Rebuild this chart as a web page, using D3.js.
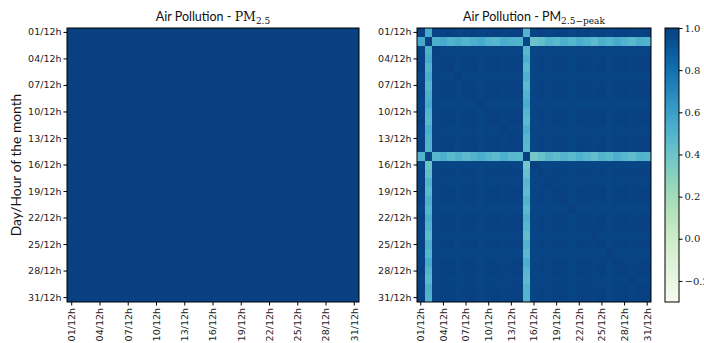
<!DOCTYPE html>
<html>
<head>
<meta charset="utf-8">
<script src="https://cdn.jsdelivr.net/npm/d3@7"></script>
<style>
  html, body { margin: 0; padding: 0; background: #fff; }
  svg { display: block; }
</style>
</head>
<body>
<svg id="chart" width="704" height="343"></svg>
<script>
// ---------------- data ----------------
const days = d3.range(1, 32).map(d => String(d).padStart(2, "0"));
const tickLabels = ["01/12h","04/12h","07/12h","10/12h","13/12h","16/12h","19/12h","22/12h","25/12h","28/12h","31/12h"];
const tickDays = ["01","04","07","10","13","16","19","22","25","28","31"];

// PM2.5: every day correlates ~perfectly with every other day
const pm25Coherence = [1.0,0.998,1.0,0.998,1.0,1.0,0.998,1.0,1.0,0.998,1.0,1.0,0.998,1.0,1.0,1.0,0.998,1.0,1.0,0.998,1.0,1.0,1.0,0.998,1.0,1.0,0.998,1.0,1.0,0.998,1.0];

// PM2.5-peak: two outlier days (02 and 15)
const peakOutliers = ["02", "15"];
// correlation of the day-02 profile with each day
const peakRow02 = [0.55,1.0,0.52,0.55,0.50,0.53,0.49,0.52,0.55,0.50,0.48,0.53,0.51,0.50,0.98,0.40,0.44,0.50,0.47,0.52,0.49,0.53,0.50,0.46,0.52,0.49,0.54,0.50,0.47,0.52,0.50];
// correlation of the day-15 profile with each day
const peakRow15 = [0.50,0.98,0.48,0.52,0.47,0.51,0.46,0.50,0.53,0.49,0.46,0.52,0.48,0.47,1.0,0.38,0.42,0.48,0.45,0.50,0.47,0.51,0.48,0.44,0.50,0.47,0.52,0.48,0.45,0.50,0.49];
// coherence of the remaining days among themselves
const peakCoherence = [0.995,1.0,0.985,0.99,0.995,0.98,0.99,0.995,0.98,0.99,0.995,0.985,0.99,0.995,1.0,0.98,0.99,0.985,0.995,0.99,0.98,0.995,0.99,0.985,0.995,0.98,0.99,0.995,0.985,0.99,0.995];

const colorTicks = [-0.2, 0.0, 0.2, 0.4, 0.6, 0.8, 1.0];
const colorDomain = [-0.3, 1.0];

// ---------------- build matrices ----------------
function pm25Cell(i, j) {
  return i === j ? 1 : Math.min(pm25Coherence[i], pm25Coherence[j]);
}
function peakCell(i, j) {
  const a = days[i], b = days[j];
  if (i === j) return 1;
  if (a === peakOutliers[0]) return peakRow02[j];
  if (b === peakOutliers[0]) return peakRow02[i];
  if (a === peakOutliers[1]) return peakRow15[j];
  if (b === peakOutliers[1]) return peakRow15[i];
  return Math.min(peakCoherence[i], peakCoherence[j]);
}
function cells(fn) {
  const out = [];
  days.forEach((r, i) => days.forEach((c, j) => out.push({ r, c, v: fn(i, j) })));
  return out;
}

// ---------------- drawing ----------------
const svg = d3.select("#chart");
const color = d3.scaleSequential(d3.interpolateGnBu).domain(colorDomain);
const sansTick = "'DejaVu Sans', sans-serif";

function panel(x0, x1, y0, y1, data, sub, showYLabel) {
  const g = svg.append("g");
  const x = d3.scaleBand().domain(days).range([x0, x1]).padding(0);
  const y = d3.scaleBand().domain(days).range([y0, y1]).padding(0);

  g.append("g").attr("shape-rendering", "crispEdges")
    .selectAll("rect").data(data).join("rect")
    .attr("x", d => x(d.c))
    .attr("y", d => y(d.r))
    .attr("width", d => Math.min(x.bandwidth() + 0.6, x1 - x(d.c)))
    .attr("height", d => Math.min(y.bandwidth() + 0.6, y1 - y(d.r)))
    .attr("fill", d => color(d.v));

  g.append("rect")
    .attr("x", x0).attr("y", y0).attr("width", x1 - x0).attr("height", y1 - y0)
    .attr("fill", "none").attr("stroke", "#000").attr("stroke-width", 1);

  const fmt = d => tickLabels[tickDays.indexOf(d)];
  const yAxis = d3.axisLeft(y).tickValues(tickDays).tickFormat(fmt).tickSize(3.5).tickPadding(2);
  const ya = g.append("g").attr("transform", `translate(${x0},0)`).call(yAxis);
  ya.select(".domain").remove();
  ya.selectAll("text").style("font-family", sansTick).style("font-size", "9.5px").attr("fill", "#222");

  const xAxis = d3.axisBottom(x).tickValues(tickDays).tickFormat(fmt).tickSize(3.5).tickPadding(2);
  const xa = g.append("g").attr("transform", `translate(0,${y1})`).call(xAxis);
  xa.select(".domain").remove();
  xa.selectAll("text")
    .style("font-family", sansTick).style("font-size", "9.5px").attr("fill", "#222")
    .attr("transform", "rotate(-90)")
    .attr("text-anchor", "end")
    .attr("x", -6).attr("y", 0).attr("dy", "0.35em");

  const t = g.append("text")
    .attr("x", (x0 + x1) / 2).attr("y", y0 - 7)
    .attr("text-anchor", "middle")
    .style("font-family", "Lato, 'Liberation Sans', sans-serif")
    .style("font-size", "12.5px").attr("fill", "#111");
  t.append("tspan").text("Air Pollution - ");
  t.append("tspan").style("font-family", sub.pmSerif ? "'DejaVu Serif', serif" : "Lato, sans-serif").text("PM");
  t.append("tspan").style("font-family", "'DejaVu Serif', serif").style("font-size", "9px")
    .attr("dy", 3).text(sub.text);

  if (showYLabel) {
    g.append("text")
      .attr("transform", `translate(21,${(y0 + y1) / 2}) rotate(-90)`)
      .attr("text-anchor", "middle")
      .style("font-family", "Lato, 'Liberation Sans', sans-serif")
      .style("font-size", "13.8px").attr("fill", "#111")
      .text("Day/Hour of the month");
  }
}

panel(67, 359, 28, 302, cells(pm25Cell), { text: "2.5", pmSerif: true }, true);
panel(417, 651, 28, 302, cells(peakCell), { text: "2.5\u2212peak", pmSerif: false }, false);

// ---------------- colorbar ----------------
const cbX = 665, cbW = 14, cbY0 = 28, cbY1 = 302;
const cy = d3.scaleLinear().domain(colorDomain).range([cbY1, cbY0]);
const defs = svg.append("defs");
const grad = defs.append("linearGradient").attr("id", "cbgrad")
  .attr("x1", 0).attr("y1", 1).attr("x2", 0).attr("y2", 0);
d3.range(0, 1.0001, 0.05).forEach(t => {
  grad.append("stop").attr("offset", t).attr("stop-color", d3.interpolateGnBu(t));
});
svg.append("rect").attr("x", cbX).attr("y", cbY0).attr("width", cbW).attr("height", cbY1 - cbY0)
  .attr("fill", "url(#cbgrad)").attr("stroke", "#000").attr("stroke-width", 1);
const cAxis = d3.axisRight(cy).tickValues(colorTicks)
  .tickFormat(d => (d < 0 ? "\u2212" : "") + Math.abs(d).toFixed(1)).tickSize(3.5).tickPadding(2);
const ca = svg.append("g").attr("transform", `translate(${cbX + cbW},0)`).call(cAxis);
ca.select(".domain").remove();
ca.selectAll("text").style("font-family", "'DejaVu Serif', serif").style("font-size", "10px").attr("fill", "#222");
</script>
</body>
</html>
